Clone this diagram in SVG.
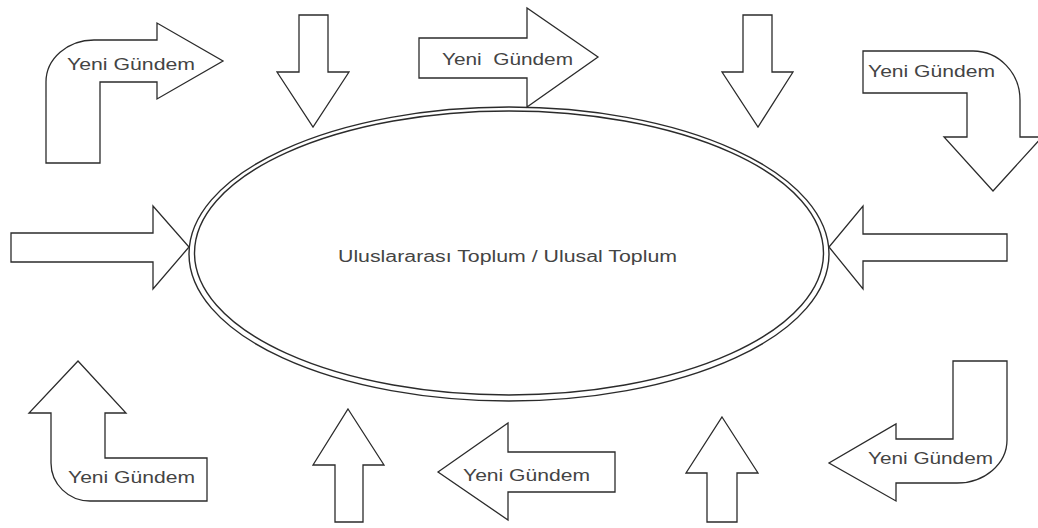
<svg xmlns="http://www.w3.org/2000/svg" width="1038" height="528" viewBox="0 0 1038 528">
  <style>
    .arrow { fill: #ffffff; stroke: #2b2b2b; stroke-width: 1.3; stroke-linejoin: miter; }
    .ring { fill: none; stroke: #2b2b2b; stroke-width: 1.4; }
    .label { font-family: "Liberation Sans", Arial, sans-serif; font-size: 16px; fill: #444444; }
  </style>
  <rect x="0" y="0" width="1038" height="528" fill="#ffffff"/>

  <!-- central society ellipse (double outline) -->
  <g id="society">
    <ellipse class="ring" cx="509" cy="254" rx="320" ry="147"/>
    <ellipse class="ring" cx="509" cy="253" rx="314.5" ry="142"/>
    <text class="label" x="338" y="262" textLength="339" lengthAdjust="spacingAndGlyphs">Uluslararası Toplum / Ulusal Toplum</text>
  </g>

  <g id="connectors">
    <!-- top-left bent arrow -->
    <g id="agenda-top-left">
      <path class="arrow" d="M46,163 L100,163 L100,82 L157,82 L157,99 L223,61 L157,23 L157,40 L94,40 A48,42 0 0 0 46,82 Z"/>
      <text class="label" x="67" y="70" textLength="128" lengthAdjust="spacingAndGlyphs">Yeni Gündem</text>
    </g>

    <!-- top down arrow, left -->
    <g id="down-left">
      <path class="arrow" d="M299,15 L328,15 L328,72 L349,72 L313,127 L277,72 L299,72 Z"/>
    </g>

    <!-- top right-pointing arrow -->
    <g id="agenda-top">
      <path class="arrow" d="M419,38 L527,38 L527,8 L598,57 L527,107 L527,78 L419,78 Z"/>
      <text class="label" x="442" y="65" textLength="131" lengthAdjust="spacingAndGlyphs" xml:space="preserve">Yeni  Gündem</text>
    </g>

    <!-- top down arrow, right -->
    <g id="down-right">
      <path class="arrow" d="M743,15 L772,15 L772,72 L793,72 L758,127 L722,72 L743,72 Z"/>
    </g>

    <!-- top-right bent arrow -->
    <g id="agenda-top-right">
      <path class="arrow" d="M863,51 L973,51 A47,49 0 0 1 1020,100 L1020,137 L1042,137 L993,191 L944,137 L967,137 L967,93 L863,93 Z"/>
      <text class="label" x="868" y="77" textLength="127" lengthAdjust="spacingAndGlyphs">Yeni Gündem</text>
    </g>

    <!-- left horizontal arrow -->
    <g id="in-left">
      <path class="arrow" d="M11,233 L153,233 L153,206 L189,247 L153,289 L153,262 L11,262 Z"/>
    </g>

    <!-- right horizontal arrow -->
    <g id="in-right">
      <path class="arrow" d="M1007,234 L863,234 L863,206 L829,247 L863,289 L863,261 L1007,261 Z"/>
    </g>

    <!-- bottom-left bent arrow -->
    <g id="agenda-bottom-left">
      <path class="arrow" d="M78,361 L126,413 L105,413 L105,458 L207,458 L207,501 L90,501 A39,38 0 0 1 51,463 L51,413 L29,413 Z"/>
      <text class="label" x="68" y="483" textLength="127" lengthAdjust="spacingAndGlyphs">Yeni Gündem</text>
    </g>

    <!-- bottom up arrow, left -->
    <g id="up-left">
      <path class="arrow" d="M348,409 L384,465 L363,465 L363,522 L335,522 L335,465 L313,465 Z"/>
    </g>

    <!-- bottom left-pointing arrow -->
    <g id="agenda-bottom">
      <path class="arrow" d="M438,472 L508,423 L508,452 L615,452 L615,492 L508,492 L508,520 Z"/>
      <text class="label" x="463" y="481" textLength="127" lengthAdjust="spacingAndGlyphs">Yeni Gündem</text>
    </g>

    <!-- bottom up arrow, right -->
    <g id="up-right">
      <path class="arrow" d="M722,417 L758,473 L737,473 L737,522 L707,522 L707,473 L686,473 Z"/>
    </g>

    <!-- bottom-right bent arrow -->
    <g id="agenda-bottom-right">
      <path class="arrow" d="M953,361 L1007,361 L1007,440 A50,43 0 0 1 957,483 L896,483 L896,501 L829,463 L896,424 L896,439 L953,439 Z"/>
      <text class="label" x="868" y="464" textLength="125" lengthAdjust="spacingAndGlyphs">Yeni Gündem</text>
    </g>
  </g>
</svg>
